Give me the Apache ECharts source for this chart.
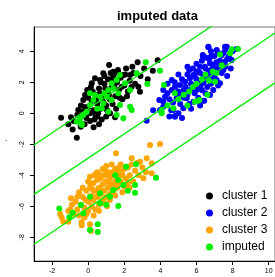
<!DOCTYPE html>
<html>
<head>
<meta charset="utf-8">
<script src="https://cdn.jsdelivr.net/npm/echarts@6/dist/echarts.min.js"></script>
<style>html,body{margin:0;padding:0;background:#fff}#main{width:275px;height:277px}</style>
</head>
<body>
<div id="main"></div>
<script>
// 数据：三个聚类 + 插补点
const cluster1 = [
  [-1.50,-0.28],[-0.95,-0.26],[-0.63,-1.57],[-0.86,-1.05],[-0.41,-0.86],[-0.55,0.21],[-0.27,0.86],[-0.17,1.18],[-0.05,1.50],[0.20,1.94],
  [0.38,2.26],[0.66,2.15],[0.84,2.58],[1.16,3.12],[1.39,2.68],[1.67,2.62],[1.95,2.47],[2.32,2.47],[2.74,3.29],[3.85,3.42],
  [3.58,2.75],[2.87,1.39],[2.78,1.72],[1.49,-0.26],[1.21,0.00],[-0.30,0.10],[-0.10,-0.30],[0.00,0.40],[0.10,-0.50],[0.20,0.80],
  [0.30,0.20],[0.40,1.20],[0.50,-0.20],[0.50,0.60],[0.60,1.60],[0.70,0.30],[0.80,1.00],[0.90,1.90],[1.00,0.50],[1.00,1.40],
  [1.10,2.20],[1.20,0.90],[1.30,1.70],[1.40,2.40],[1.50,1.10],[1.60,2.00],[1.70,1.50],[1.80,2.30],[1.90,0.90],[2.00,1.80],
  [2.10,2.90],[2.20,1.40],[2.30,2.10],[2.50,2.60],[2.60,1.90],[2.90,2.40],[3.10,2.90],[3.30,2.20],[-0.80,-0.50],[-0.60,-0.10],
  [-0.20,-0.70],[0.10,0.00],[0.25,1.40],[0.35,-0.40],[0.45,0.90],[0.55,0.00],[0.65,1.30],[0.75,-0.40],[0.85,0.70],[0.95,1.60],
  [1.05,0.20],[1.15,1.20],[1.25,2.60],[1.35,0.60],[1.45,1.80],[1.55,0.30],[1.65,2.80],[1.75,1.00],[1.85,1.70],[2.05,2.50],
  [2.15,1.10],[2.40,1.70],[2.45,3.00],[0.00,1.00],[-0.40,0.50],[0.60,-0.70],[1.00,-0.20],[0.30,-0.90],[-1.10,-0.70],[0.15,1.70],
  [0.90,2.40],[0.70,2.00],[1.30,2.20],[-0.20,0.40],[0.40,-0.10]
]
const cluster2 = [
  [3.24,-0.48],[4.81,-0.22],[8.23,4.15],[6.66,4.30],[7.68,4.30],[6.35,3.76],[4.63,2.15],[4.16,1.50],[3.94,0.86],[4.16,0.43],
  [6.43,0.81],[6.93,1.50],[6.66,4.26],[7.58,4.30],[7.12,4.08],[7.40,3.76],[6.79,3.65],[6.35,3.70],[7.95,3.44],[7.58,3.33],
  [7.21,3.23],[6.75,3.23],[6.47,3.01],[6.66,2.68],[6.10,2.68],[5.83,2.47],[5.64,2.26],[5.37,2.04],[5.09,1.83],[4.81,1.72],
  [4.63,1.50],[4.39,1.29],[4.26,1.07],[4.16,0.75],[3.98,0.21],[4.81,-0.17],[4.72,0.21],[5.27,0.32],[5.83,0.75],[6.38,0.81],
  [6.75,1.18],[7.30,1.94],[7.12,2.15],[7.49,2.79],[5.46,0.97],[5.09,1.18],[5.64,1.50],[6.20,1.72],[5.00,1.40],[5.20,2.20],
  [5.30,1.00],[5.40,1.70],[5.50,2.50],[5.60,0.60],[5.70,1.90],[5.80,2.90],[5.90,1.30],[6.00,2.20],[6.00,3.20],[6.10,1.00],
  [6.20,2.60],[6.30,1.50],[6.30,3.40],[6.40,2.00],[6.50,2.90],[6.50,1.30],[6.60,2.30],[6.70,3.50],[6.80,1.90],[6.80,2.80],
  [6.90,3.10],[7.00,2.40],[7.00,3.70],[7.10,2.90],[7.20,1.80],[7.30,3.40],[7.40,2.60],[7.50,3.90],[7.60,3.00],[7.70,2.40],
  [7.80,3.70],[8.00,4.00],[7.90,2.90],[5.10,0.60],[4.90,1.00],[4.50,0.90],[4.40,1.90],[4.70,0.70],[5.50,1.20],[5.80,1.60],
  [6.10,2.00],[6.20,3.00],[6.40,2.40],[6.60,1.70],[6.90,2.20],[7.10,3.30],[5.30,1.50],[5.60,2.80],[5.90,2.40],[6.00,1.50],
  [6.70,2.60],[7.30,2.80],[4.60,0.20],[5.00,0.00],[5.20,-0.30],[4.50,-0.20],[5.70,0.30],[6.20,0.50],[5.50,3.00],[6.80,4.00],
  [7.60,4.10],[7.20,3.90],[5.00,2.50],[4.80,2.00],[6.50,3.60],[7.70,3.50],[3.60,0.20],[6.00,2.70],[6.30,1.90]
]
const cluster3 = [
  [3.43,-2.05],[3.98,-1.98],[1.54,-2.58],[2.41,-2.90],[2.87,-3.12],[3.24,-2.90],[3.52,-3.23],[3.52,-3.87],[3.06,-4.19],[0.10,-7.16],
  [0.16,-7.59],[-0.36,-7.01],[-0.36,-7.23],[-0.95,-5.48],[-0.60,-5.38],[0.10,-4.52],[0.34,-3.98],[0.66,-3.98],[0.99,-3.72],[1.67,-3.51],
  [2.14,-3.44],[-1.47,-6.71],[-1.38,-6.99],[-1.10,-6.99],[-1.55,-6.50],[-1.10,-6.30],[-0.40,-5.90],[-0.30,-5.40],[-0.20,-6.10],[-0.10,-5.00],
  [0.00,-5.70],[0.00,-6.30],[0.10,-4.80],[0.20,-5.30],[0.20,-6.00],[0.30,-4.50],[0.30,-5.60],[0.40,-5.00],[0.40,-6.20],[0.50,-4.30],
  [0.50,-5.40],[0.60,-4.80],[0.60,-5.90],[0.70,-4.20],[0.70,-5.20],[0.80,-4.60],[0.80,-5.60],[0.90,-4.00],[0.90,-5.00],[1.00,-4.40],
  [1.00,-5.40],[1.10,-3.90],[1.10,-4.80],[1.20,-4.20],[1.20,-5.20],[1.30,-3.80],[1.30,-4.60],[1.40,-4.00],[1.40,-5.00],[1.50,-3.60],
  [1.50,-4.40],[1.60,-4.10],[1.60,-4.80],[1.70,-3.80],[1.80,-4.40],[1.80,-3.30],[1.90,-4.00],[2.00,-3.60],[2.00,-4.70],[2.10,-4.20],
  [2.20,-3.50],[2.30,-4.00],[2.40,-3.30],[2.50,-4.40],[2.60,-3.70],[2.70,-3.20],[2.80,-4.00],[3.00,-3.50],[3.20,-3.80],[-0.60,-6.20],
  [-0.70,-5.70],[-0.80,-6.50],[-0.50,-6.60],[-0.90,-5.90],[-0.20,-6.70],[-1.00,-6.20],[-0.30,-4.80],[0.10,-4.10],[0.50,-3.80],[1.00,-3.40],
  [1.30,-3.30],[0.60,-6.30],[0.90,-5.80],[1.20,-5.60],[1.50,-5.30],[1.90,-5.10],[2.30,-4.80],[-0.10,-6.50],[0.30,-6.60],[-0.50,-5.10],
  [0.80,-3.60],[1.70,-4.50],[2.20,-4.50],[0.40,-4.00],[0.00,-4.40],[1.45,-4.70],[0.75,-5.00],[1.15,-4.50],[0.55,-5.10],[1.85,-3.80],
  [-0.15,-5.60],[0.25,-4.90],[1.05,-6.00]
]
const imputed = [
  [2.69,2.58],[3.28,1.89],[2.32,1.50],[1.76,2.47],[1.58,2.15],[1.30,1.94],[1.12,1.50],[1.03,1.07],[0.66,1.07],[0.38,1.18],
  [0.29,0.86],[0.10,0.54],[-0.08,0.10],[-0.27,-0.11],[-0.45,-0.32],[-0.63,-0.54],[-0.36,-0.65],[0.75,0.32],[1.12,0.10],[1.58,-0.11],
  [1.95,-0.32],[2.32,0.43],[2.41,0.21],[1.76,0.54],[1.30,0.86],[0.84,0.65],[1.67,1.29],[2.04,1.94],[0.10,1.29],[3.19,3.29],
  [3.98,2.75],[-0.36,-0.75],[0.50,0.30],[0.90,1.30],[1.40,1.60],
  [4.20,1.83],[4.07,0.00],[4.72,0.32],[4.07,0.21],[5.92,0.75],[6.10,0.81],[6.16,0.86],[7.03,2.04],[7.95,4.13],[7.86,3.87],
  [8.30,4.15],[5.30,1.20],[5.60,1.40],[5.80,1.70],[6.00,1.90],[6.30,2.20],[6.50,2.50],[6.70,2.10],[6.90,2.70],[7.10,2.60],
  [7.40,3.10],[5.00,0.90],[4.80,1.30],[4.40,0.50],[6.60,1.20],[7.30,3.80],[5.50,0.50],
  [3.76,-4.15],[2.65,-3.29],[2.10,-3.44],[2.60,-5.12],[2.60,-4.63],[1.67,-5.98],[0.10,-7.53],[0.53,-7.16],[0.53,-7.66],[-1.60,-6.15],
  [-1.04,-6.71],[-0.86,-6.41],[1.21,-5.38],[0.66,-5.81],[0.10,-5.38],[-0.27,-6.45],[1.39,-4.95],[1.67,-4.30],[1.95,-4.63],[0.66,-5.16],
  [-0.40,-5.92],[1.00,-5.90],[2.20,-5.00],[1.50,-4.00]
]
// 三条平行线 y = a + b*x
const lineIntercepts = [0.29, -2.89, -6.11]
const lineSlope = 0.78
const xTicks = [-2, 0, 2, 4, 6, 8, 10]
const yTicks = [-8, -6, -4, -2, 0, 2, 4]

const xMin = -3, xMax = 10.35, yMin = -9.53, yMax = 5.57
const green = '#00ee00'
const font = 'Liberation Sans, Arial, sans-serif'

const myChart = echarts.init(document.getElementById('main'))

const lineSeries = lineIntercepts.map(a => ({
  type: 'line',
  data: [[xMin, a + lineSlope * xMin], [xMax, a + lineSlope * xMax]],
  showSymbol: false,
  symbol: 'none',
  clip: true,
  silent: true,
  z: 5,
  lineStyle: { color: green, width: 1.3 }
}))

const dot = (name, data, color, z) => ({
  name, type: 'scatter', data, symbolSize: 6, z,
  itemStyle: { color, opacity: 1 }
})

const option = {
  animation: false,
  backgroundColor: '#fff',
  textStyle: { fontFamily: font },
  title: {
    text: 'imputed data',
    left: 112,
    top: 5,
    textStyle: { fontSize: 13, fontWeight: 'bold', color: '#000', fontFamily: font }
  },
  legend: {
    data: ['cluster 1', 'cluster 2', 'cluster 3', 'imputed'],
    orient: 'vertical',
    left: 201,
    top: 185,
    itemWidth: 7,
    itemHeight: 7,
    itemGap: 5,
    icon: 'circle',
    textStyle: { fontSize: 12, color: '#000', lineHeight: 12, padding: [0, 0, 0, 4], fontFamily: font }
  },
  grid: {
    left: 34, right: 0, top: 27, bottom: 16,
    containLabel: false,
    outerBoundsMode: 'none',
    show: true,
    borderColor: '#777',
    borderWidth: 1
  },
  xAxis: {
    type: 'value', min: xMin, max: xMax,
    splitLine: { show: false },
    axisLine: { onZero: false, lineStyle: { color: '#000', width: 1 } },
    axisTick: { customValues: xTicks, length: 4, lineStyle: { color: '#000' } },
    axisLabel: { customValues: xTicks, fontSize: 7, color: '#000', margin: 7 }
  },
  yAxis: {
    type: 'value', min: yMin, max: yMax,
    splitLine: { show: false },
    axisLine: { show: true, onZero: false, lineStyle: { color: '#000', width: 1 } },
    axisTick: { show: true, customValues: yTicks, length: 4, lineStyle: { color: '#000' } },
    axisLabel: { customValues: yTicks, fontSize: 7, color: '#000', margin: 8, rotate: 90 }
  },
  graphic: [{
    type: 'text', left: 5, top: 136,
    style: { text: '-', fontSize: 8, fill: '#444', fontFamily: font }
  }],
  series: [
    dot('cluster 1', cluster1, '#000000', 2),
    dot('cluster 2', cluster2, '#0000ff', 2),
    dot('cluster 3', cluster3, '#ffa500', 2),
    dot('imputed', imputed, green, 3),
    ...lineSeries
  ]
}

myChart.setOption(option)
</script>
</body>
</html>
